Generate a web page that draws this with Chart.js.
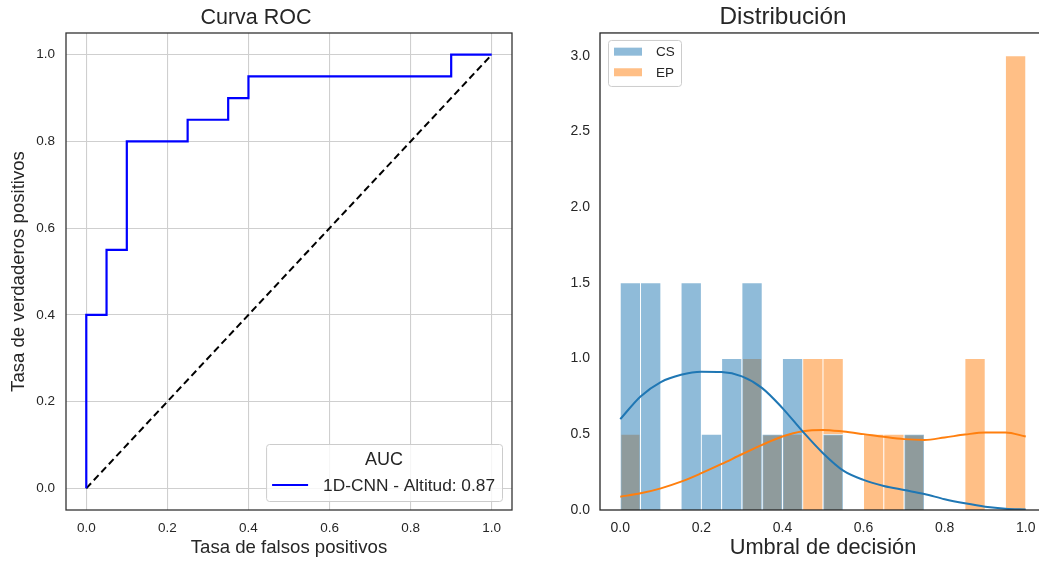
<!DOCTYPE html>
<html><head><meta charset="utf-8">
<script src="https://cdn.jsdelivr.net/npm/chart.js@4.4.1/dist/chart.umd.min.js"></script>
<style>
 html, body { margin:0; padding:0; background:#fff; overflow:hidden; width:1039px; height:562px; }
 #roc { position:absolute; left:0; top:0; }
 #dist { position:absolute; left:520px; top:0; }
</style>
</head>
<body>
<canvas id="roc" width="520" height="562"></canvas>
<canvas id="dist" width="540" height="562"></canvas>
<script>
// --- curva ROC ---
var fpr = [0, 0, 0.05, 0.05, 0.1, 0.1, 0.25, 0.25, 0.35, 0.35, 0.4, 0.4, 0.9, 0.9, 1.0];
var tpr = [0, 0.4, 0.4, 0.55, 0.55, 0.8, 0.8, 0.85, 0.85, 0.9, 0.9, 0.95, 0.95, 1.0, 1.0];
var azarX = [0, 1];
var azarY = [0, 1];
var modelo = '1D-CNN - Altitud';
var auc = 0.87;
var rocTicks = [0, 0.2, 0.4, 0.6, 0.8, 1.0];

// --- distribucion del umbral (densidad, 20 bins) ---
var binCentros = [0.025, 0.075, 0.125, 0.175, 0.225, 0.275, 0.325, 0.375, 0.425, 0.475,
                  0.525, 0.575, 0.625, 0.675, 0.725, 0.775, 0.825, 0.875, 0.925, 0.975];
var histCS = [1.5, 1.5, 0, 1.5, 0.5, 1.0, 1.5, 0.5, 1.0, 0, 0.5, 0, 0, 0, 0.5, 0, 0, 0, 0, 0];
var histEP = [0.5, 0, 0, 0, 0, 0, 1.0, 0.5, 0.5, 1.0, 1.0, 0, 0.5, 0.5, 0.5, 0, 0, 1.0, 0, 3.0];
var kdeX = [0, 0.05, 0.1, 0.15, 0.2, 0.25, 0.3, 0.35, 0.4, 0.45, 0.5,
            0.55, 0.6, 0.65, 0.7, 0.75, 0.8, 0.85, 0.9, 0.95, 1.0];
var kdeCS = [0.60, 0.75, 0.845, 0.893, 0.913, 0.911, 0.882, 0.805, 0.673, 0.518, 0.375,
             0.26, 0.199, 0.159, 0.132, 0.106, 0.071, 0.044, 0.022, 0.009, 0.004];
var kdeEP = [0.088, 0.11, 0.143, 0.187, 0.243, 0.304, 0.368, 0.43, 0.485, 0.52, 0.529,
             0.518, 0.501, 0.483, 0.468, 0.463, 0.479, 0.498, 0.512, 0.512, 0.485];
var distXTicks = [0, 0.2, 0.4, 0.6, 0.8, 1.0];
var distYTicks = [0, 0.5, 1.0, 1.5, 2.0, 2.5, 3.0];

Chart.defaults.font.family = '"Liberation Sans", Arial, sans-serif';
Chart.defaults.color = '#262626';
Chart.defaults.animation = false;

function xy(xs, ys) {
  return xs.map(function (x, i) { return { x: x, y: ys[i] }; });
}
function fijarTicks(vals) {
  return function (scale) { scale.ticks = vals.map(function (v) { return { value: v }; }); };
}

// marco del eje (spines)
var marco = {
  id: 'marco',
  afterDatasetsDraw: function (chart, args, opts) {
    var a = chart.chartArea, ctx = chart.ctx;
    ctx.save();
    ctx.strokeStyle = opts.color;
    ctx.lineWidth = opts.width;
    ctx.strokeRect(a.left, a.top, a.right - a.left, a.bottom - a.top);
    ctx.restore();
  }
};

function cajaLeyenda(ctx, x, y, w, h) {
  ctx.beginPath();
  ctx.roundRect(x + 0.5, y + 0.5, w, h, 3);
  ctx.fillStyle = 'rgba(255,255,255,0.8)';
  ctx.fill();
  ctx.strokeStyle = '#cccccc';
  ctx.lineWidth = 1;
  ctx.stroke();
}

// leyenda con titulo "AUC" abajo a la derecha
var leyendaROC = {
  id: 'leyendaROC',
  afterDraw: function (chart) {
    var ctx = chart.ctx, a = chart.chartArea, ds = chart.data.datasets[0];
    ctx.save();
    ctx.font = '17.3px "Liberation Sans", Arial, sans-serif';
    var tw = ctx.measureText(ds.label).width;
    var w = 64 + tw, h = 57;
    var x = a.right - 10 - w, y = a.bottom - 9 - h;
    cajaLeyenda(ctx, x, y, w, h);
    ctx.fillStyle = '#262626';
    ctx.textBaseline = 'middle';
    ctx.textAlign = 'center';
    ctx.font = '18px "Liberation Sans", Arial, sans-serif';
    ctx.fillText('AUC', x + w / 2, y + 16.5);
    ctx.strokeStyle = ds.borderColor;
    ctx.lineWidth = ds.borderWidth;
    ctx.beginPath();
    ctx.moveTo(x + 6, y + 41);
    ctx.lineTo(x + 42, y + 41);
    ctx.stroke();
    ctx.textAlign = 'left';
    ctx.font = '17.3px "Liberation Sans", Arial, sans-serif';
    ctx.fillText(ds.label, x + 57, y + 42);
    ctx.restore();
  }
};

// leyenda CS / EP arriba a la izquierda
var leyendaDist = {
  id: 'leyendaDist',
  afterDraw: function (chart) {
    var ctx = chart.ctx, a = chart.chartArea;
    var items = chart.data.datasets.filter(function (d) { return d.type === 'bar'; });
    var x = a.left + 8, y = a.top + 7;
    cajaLeyenda(ctx, x, y, 73, 46);
    ctx.save();
    ctx.font = '13.5px "Liberation Sans", Arial, sans-serif';
    ctx.textBaseline = 'middle';
    items.forEach(function (d, i) {
      var cy = y + 11.7 + i * 20.6;
      ctx.fillStyle = d.backgroundColor;
      ctx.fillRect(x + 6, cy - 4, 28, 8);
      ctx.fillStyle = '#262626';
      ctx.fillText(d.label, x + 48, cy + 0.8);
    });
    ctx.restore();
  }
};

new Chart(document.getElementById('roc'), {
  type: 'line',
  data: {
    datasets: [
      { label: modelo + ': ' + auc.toFixed(2), data: xy(fpr, tpr), borderColor: '#0000ff',
        borderWidth: 2.2, pointRadius: 0, tension: 0, fill: false },
      { label: 'azar', data: xy(azarX, azarY), borderColor: '#000000', borderWidth: 2,
        borderDash: [7, 4], pointRadius: 0, tension: 0, fill: false }
    ]
  },
  options: {
    responsive: false,
    layout: { padding: { left: 0, right: 8, top: 0, bottom: 0 } },
    plugins: {
      legend: { display: false },
      tooltip: { enabled: false },
      title: { display: true, text: 'Curva ROC', color: '#262626',
               font: { size: 21.5, weight: 'normal' }, padding: { top: 5.5, bottom: 1.7 } },
      marco: { color: '#333333', width: 1.3 }
    },
    scales: {
      x: {
        type: 'linear', min: -0.05, max: 1.05,
        afterBuildTicks: fijarTicks(rocTicks),
        afterFit: function (s) { s.height = 52; },
        grid: { color: '#cfcfcf', lineWidth: 1.1, drawTicks: false },
        border: { display: false },
        ticks: { padding: 10, font: { size: 13.5 }, color: '#262626',
                 callback: function (v) { return v.toFixed(1); } },
        title: { display: true, text: 'Tasa de falsos positivos', color: '#262626',
                 font: { size: 18.6 }, padding: { top: 0, bottom: 3 } }
      },
      y: {
        type: 'linear', min: -0.05, max: 1.05,
        afterBuildTicks: fijarTicks(rocTicks),
        afterFit: function (s) { s.width = 66; },
        grid: { color: '#cfcfcf', lineWidth: 1.1, drawTicks: false },
        border: { display: false },
        ticks: { padding: 11, font: { size: 13.5 }, color: '#262626',
                 callback: function (v) { return v.toFixed(1); } },
        title: { display: true, text: 'Tasa de verdaderos positivos', color: '#262626',
                 font: { size: 18.6 }, padding: { top: 8, bottom: 0 } }
      }
    }
  },
  plugins: [marco, leyendaROC]
});

new Chart(document.getElementById('dist'), {
  type: 'bar',
  data: {
    datasets: [
      { type: 'bar', label: 'CS', data: xy(binCentros, histCS), order: 1, grouped: false,
        backgroundColor: 'rgba(31,119,180,0.5)', borderColor: 'rgba(255,255,255,0.9)',
        borderWidth: 0.8, barPercentage: 1, categoryPercentage: 1 },
      { type: 'bar', label: 'EP', data: xy(binCentros, histEP), order: 2, grouped: false,
        backgroundColor: 'rgba(255,127,14,0.5)', borderColor: 'rgba(255,255,255,0.9)',
        borderWidth: 0.8, barPercentage: 1, categoryPercentage: 1 },
      { type: 'line', label: 'kde CS', data: xy(kdeX, kdeCS), order: 0, borderColor: '#1f77b4',
        borderWidth: 2, pointRadius: 0, cubicInterpolationMode: 'monotone', fill: false },
      { type: 'line', label: 'kde EP', data: xy(kdeX, kdeEP), order: 0, borderColor: '#ff7f0e',
        borderWidth: 2, pointRadius: 0, cubicInterpolationMode: 'monotone', fill: false }
    ]
  },
  options: {
    responsive: false,
    layout: { padding: { left: 0, right: 14, top: 0, bottom: 0 } },
    plugins: {
      legend: { display: false },
      tooltip: { enabled: false },
      title: { display: true, text: 'Distribución', color: '#262626',
               font: { size: 24.3, weight: 'normal' }, padding: { top: 3, bottom: 0.8 } },
      marco: { color: '#262626', width: 1.3 }
    },
    scales: {
      x: {
        type: 'linear', min: -0.05, max: 1.05, offset: false,
        afterBuildTicks: fijarTicks(distXTicks),
        afterFit: function (s) { s.height = 52; },
        grid: { display: false, drawTicks: false },
        border: { display: false },
        ticks: { padding: 10, font: { size: 14 }, color: '#262626',
                 callback: function (v) { return v.toFixed(1); } },
        title: { display: true, text: 'Umbral de decisión', color: '#262626',
                 font: { size: 21.8 }, padding: { top: 0, bottom: 1 } }
      },
      y: {
        type: 'linear', min: 0, max: 3.15,
        afterBuildTicks: fijarTicks(distYTicks),
        afterFit: function (s) { s.width = 80; },
        grid: { display: false, drawTicks: false },
        border: { display: false },
        ticks: { padding: 10, font: { size: 14 }, color: '#262626',
                 callback: function (v) { return v.toFixed(1); } }
      }
    }
  },
  plugins: [marco, leyendaDist]
});
</script>
</body></html>
